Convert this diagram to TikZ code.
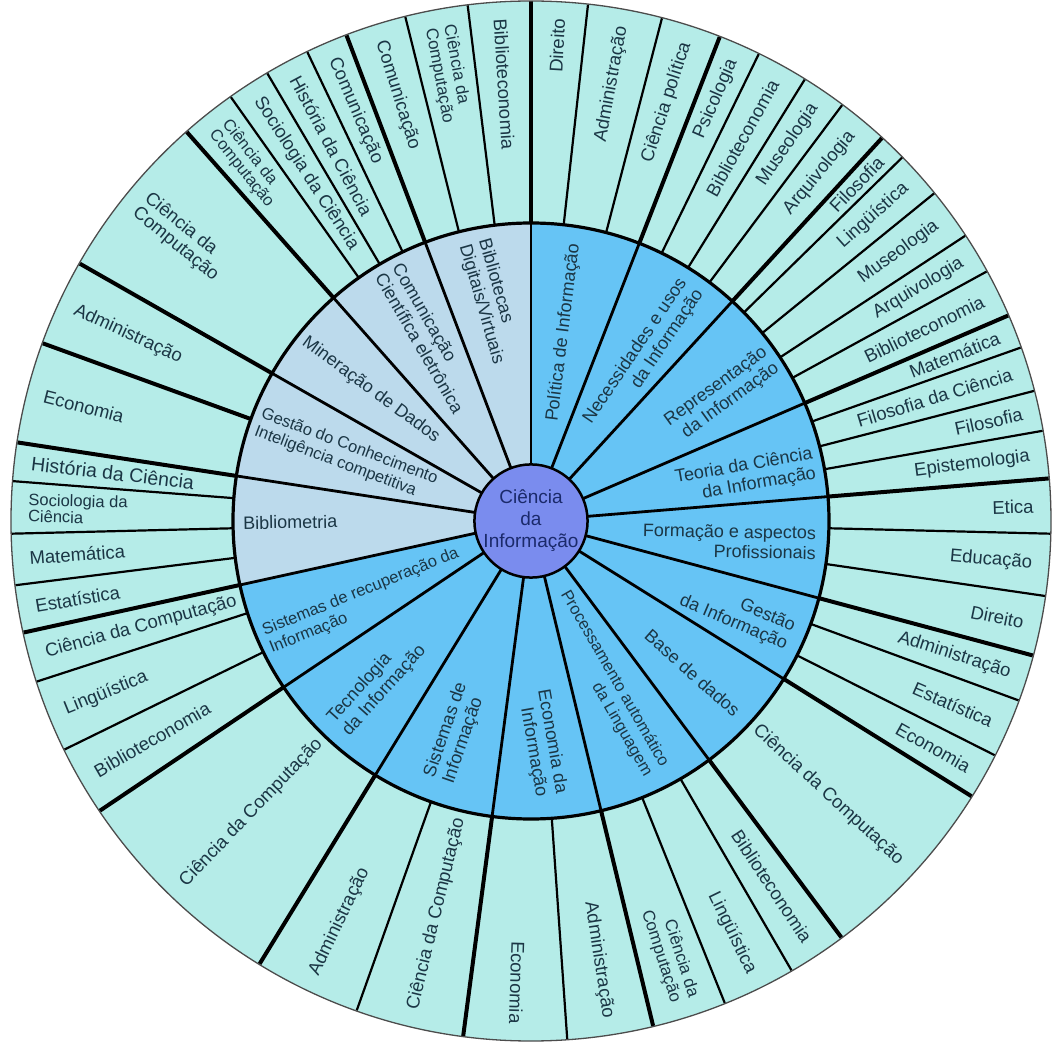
\documentclass[tikz,border=0pt]{standalone}
\usepackage{fontspec}
\setmainfont{Liberation Sans}
\definecolor{outerc}{HTML}{B5ECE8}
\definecolor{bluec}{HTML}{66C4F5}
\definecolor{palec}{HTML}{BCDAEC}
\definecolor{centc}{HTML}{7A8CEE}
\definecolor{txt}{HTML}{1B3645}
\definecolor{ctxt}{HTML}{1B2A6B}
\newcommand\olabR[4]{\node[olab,#4,anchor=east,rotate=#1,align=right] (#2) at (#1:503) {#3};}
\newcommand\olabL[4]{\node[olab,#4,anchor=west,rotate=#1+180,align=left] (#2) at (#1:503) {#3};}
\begin{document}
\begin{tikzpicture}[x=1pt,y=1pt,
  thinr/.style={line width=2.2pt, draw=black},
  thickr/.style={line width=4pt, draw=black},
  innr/.style={line width=2.8pt, draw=black},
  olab/.style={font=\fontsize{18.5}{19}\selectfont, text=txt, inner sep=0pt},
  small/.style={font=\fontsize{17}{18.5}\selectfont},
  tiny/.style={font=\fontsize{16.5}{16.5}\selectfont},
  big/.style={font=\fontsize{19.5}{21}\selectfont},
  mlab/.style={font=\fontsize{18}{20}\selectfont, text=txt, inner sep=0pt},
  msmall/.style={font=\fontsize{16.5}{19}\selectfont}]
\useasboundingbox (-531,-523) rectangle (527,521);
% fills
\fill[outerc] (0,0) circle[radius=520];
\fill[bluec] (0,0) circle[radius=298];
\fill[palec] (0,0) -- (90:298) arc[start angle=90, end angle=192.4, radius=298] -- cycle;
% outer ring radial lines
\foreach \a in {83.7,75.4,64,58.2,53.2,44.4,39.1,33.3,28.7,19.5,14.5,10,-1.4,-8.3,-20.2,-26.8,-59.9,-68.1,-86,-109.6,-153.9,-162,-172.9,-178.6,175.6,125.3,120.5,115.5,104,97}
  \draw[thinr] (\a:298) -- (\a:519.5);
\foreach \a in {90,68.7,47.5,23.3,4.7,-15,-32,-53.3,-76.4,-97.5,-121.5,-146.1,-167.6,171.3,160,150.3,131.5,110.8}
  \draw[thickr] (\a:298) -- (\a:519.5);
% middle ring radial lines
\foreach \a in {90,68.7,47.5,23.3,4.7,-15,-32,-53.3,-76.4,-97.5,-121.5,-146.1,-167.6,171.3,150.3,131.5,110.8}
  \draw[innr] (\a:50) -- (\a:298);
% circles
\draw[line width=1.3pt, draw=black!70] (0,0) circle[radius=520];
\draw[line width=3.2pt] (0,0) circle[radius=298];
\node[circle, minimum size=113pt, inner sep=0pt, fill=centc, draw=black, line width=2.5pt,
  align=center, text=ctxt, font=\fontsize{19}{22}\selectfont] (center) at (0,0) {Ciência\\da\\Informação};
% middle ring labels
\node[mlab, anchor=east, rotate=83, align=right] (m1) at (81.1:281) {Política de Informação};
\node[mlab, anchor=east, rotate=56, align=right] (m2) at (55.7:285) {Necessidades e usos\\da Informação};
\node[mlab, anchor=east, rotate=36, align=right] (m3) at (34:290) {Representação\\da Informação};
\node[mlab, anchor=east, rotate=10, align=right] (m4) at (11.4:289) {Teoria da Ciência\\da Informação};
\node[mlab, anchor=east, rotate=-1, align=right] (m5) at (-4.4:286) {Formação e aspectos\\Profissionais};
\node[mlab, anchor=east, rotate=-23, align=right] (m6) at (-24:284) {Gestão\\da Informação};
\node[mlab, anchor=east, rotate=-41.6, align=right] (m7) at (-42.9:282) {Base de dados};
\node[mlab, msmall, anchor=east, rotate=-60, align=right] (m8) at (-63.3:279) {Processamento automático\\da Linguagem};
\node[mlab, anchor=east, rotate=-80, align=right] (m9) at (-85.8:275) {Economia da\\Informação};
\node[mlab, anchor=west, rotate=71, align=left] (m10) at (-109.5:275) {Sistemas de\\Informação};
\node[mlab, anchor=west, rotate=48, align=left] (m11) at (-133.1:282) {Tecnologia\\da Informação};
\node[mlab, msmall, anchor=west, rotate=22, align=left] (m12) at (-155.7:290) {Sistemas de recuperação da\\Informação};
\node[mlab, anchor=west, rotate=1, align=left] (m13) at (-179.6:288) {Bibliometria};
\node[mlab, msmall, anchor=west, rotate=-20.7, align=left] (m14) at (160.1:290) {Gestão do Conhecimento\\Inteligência competitiva};
\node[mlab, anchor=west, rotate=-36.5, align=left] (m15) at (141.5:290) {Mineração de Dados};
\node[mlab, anchor=west, rotate=-60, align=left] (m16) at (119.5:289) {Comunicação\\Científica eletrônica};
\node[mlab, anchor=west, rotate=-74, align=left] (m17) at (101.6:285) {Bibliotecas\\Digitais/Virtuais};
% outer ring labels (right / reading outward)
\olabR{86.85}{o1}{Direito}{}
\olabR{79.55}{o2}{Administração}{}
\olabR{72.05}{o3}{Ciência política}{}
\olabR{66.35}{o4}{Psicologia}{}
\olabR{61.1}{o5}{Biblioteconomia}{}
\olabR{55.7}{o6}{Museologia}{}
\olabR{50.35}{o7}{Arquivologia}{}
\olabR{45.95}{o8}{Filosofia}{}
\olabR{41.75}{o9}{Lingüística}{}
\olabR{36.2}{o10}{Museologia}{}
\olabR{31}{o11}{Arquivologia}{}
\olabR{26}{o12}{Biblioteconomia}{}
\olabR{21.4}{o13}{Matemática}{}
\olabR{17}{o14}{Filosofia da Ciência}{}
\olabR{12.25}{o15}{Filosofia}{}
\olabR{7.35}{o16}{Epistemologia}{}
\olabR{1.65}{o17}{Etica}{}
\olabR{-4.85}{o18}{Educação}{}
\olabR{-11.65}{o19}{Direito}{}
\olabR{-17.6}{o20}{Administração}{}
\olabR{-23.5}{o21}{Estatística}{}
\olabR{-29.4}{o22}{Economia}{}
\olabR{-42.65}{o23}{Ciência da Computação}{}
\olabR{-56.6}{o24}{Biblioteconomia}{}
\olabR{-64}{o25}{Lingüística}{}
\olabR{-72.25}{o26}{Ciência da\\Computação}{small}
\olabR{-81.2}{o27}{Administração}{}
\olabR{-91.75}{o28}{Economia}{}
% outer ring labels (left / reading inward)
\olabL{-103.55}{o29}{Ciência da Computação}{}
\olabL{-115.55}{o30}{Administração}{}
\olabL{-133.8}{o31}{Ciência da Computação}{}
\olabL{-150}{o32}{Biblioteconomia}{}
\olabL{-157.95}{o33}{Lingüística}{}
\olabL{-164.8}{o34}{Ciência da Computação}{}
\olabL{-170.25}{o35}{Estatística}{}
\olabL{-175.75}{o36}{Matemática}{}
\olabL{178.5}{o37}{Sociologia da\\Ciência}{tiny}
\olabL{173.45}{o38}{História da Ciência}{big}
\olabL{165.65}{o39}{Economia}{}
\olabL{155.15}{o40}{Administração}{}
\olabL{140.9}{o41}{Ciência da\\Computação}{}
\olabL{128.4}{o42}{Ciência da\\Computação}{tiny}
\olabL{122.9}{o43}{Sociologia da Ciência}{}
\olabL{118}{o44}{História da Ciência}{}
\olabL{113.15}{o45}{Comunicação}{}
\olabL{107.4}{o46}{Comunicação}{}
\olabL{100.5}{o47}{Ciência da\\Computação}{small}
\olabL{93.5}{o48}{Biblioteconomia}{}
\end{tikzpicture}
\end{document}
